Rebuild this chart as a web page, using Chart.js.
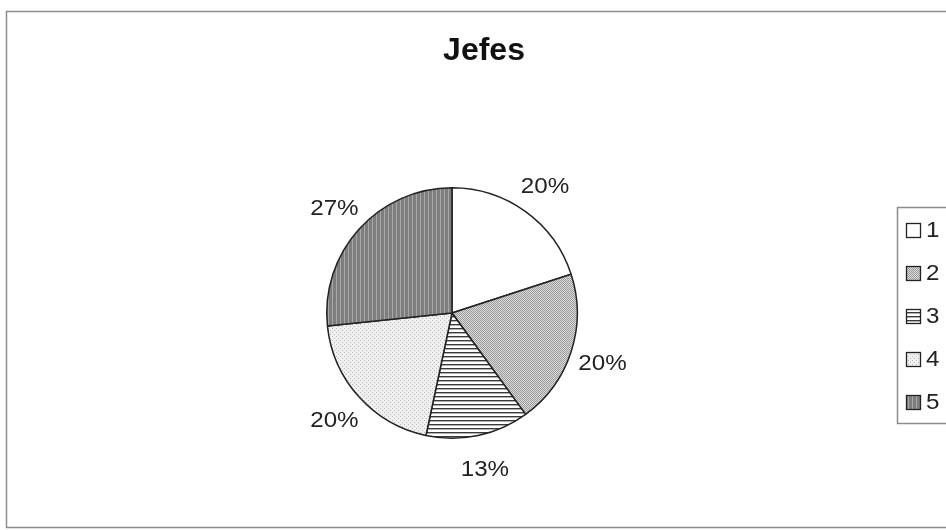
<!DOCTYPE html>
<html>
<head>
<meta charset="utf-8">
<script src="https://cdn.jsdelivr.net/npm/chart.js@4/dist/chart.umd.min.js"></script>
<style>
html,body{margin:0;padding:0;background:#fff;}
#wrap{position:relative;width:946px;height:530px;}
</style>
</head>
<body>
<div id="wrap"><canvas id="c" width="946" height="530"></canvas></div>
<script>
const chartTitle = "Jefes";
const categories = ["1", "2", "3", "4", "5"];
const counts = [3, 3, 2, 3, 4];
const percentLabels = ["20%", "20%", "13%", "20%", "27%"];

function makePattern(kind) {
  const p = document.createElement('canvas');
  p.width = 4; p.height = 4;
  const g = p.getContext('2d');
  if (kind === 'white') {
    g.fillStyle = '#ffffff'; g.fillRect(0,0,4,4);
  } else if (kind === 'gray') {
    g.fillStyle = '#dcdcdc'; g.fillRect(0,0,4,4);
    g.fillStyle = '#9a9a9a';
    g.fillRect(0,0,1,1); g.fillRect(2,0,1,1); g.fillRect(1,1,1,1); g.fillRect(3,1,1,1);
    g.fillRect(0,2,1,1); g.fillRect(2,2,1,1); g.fillRect(1,3,1,1); g.fillRect(3,3,1,1);
  } else if (kind === 'hlines') {
    g.fillStyle = '#ffffff'; g.fillRect(0,0,4,4);
    g.fillStyle = '#3a3a3a'; g.fillRect(0,0,4,1.4);
  } else if (kind === 'light') {
    g.fillStyle = '#f0f0f0'; g.fillRect(0,0,4,4);
    g.fillStyle = '#b8b8b8';
    g.fillRect(0,0,1,1); g.fillRect(2,2,1,1);
  } else if (kind === 'dark') {
    g.fillStyle = '#7e7e7e'; g.fillRect(0,0,4,4);
    g.fillStyle = '#a8a8a8'; g.fillRect(0,0,1,4);
  }
  return document.getElementById('c').getContext('2d').createPattern(p, 'repeat');
}
const fills = [makePattern('white'), makePattern('gray'), makePattern('hlines'), makePattern('light'), makePattern('dark')];

function stretchText(ctx, txt, x, y, sx) {
  ctx.save();
  ctx.translate(x, y);
  ctx.scale(sx, 1);
  ctx.fillText(txt, 0, 0);
  ctx.restore();
}

const decor = {
  id: 'decor',
  beforeDraw(chart) {
    const ctx = chart.ctx;
    ctx.save();
    ctx.fillStyle = '#fff';
    ctx.fillRect(0,0,chart.width,chart.height);
    ctx.strokeStyle = '#8c8c8c';
    ctx.lineWidth = 1.5;
    ctx.strokeRect(6.5, 11.5, 960, 516);
    ctx.restore();
  },
  afterDraw(chart) {
    const ctx = chart.ctx;
    ctx.save();
    // title
    ctx.fillStyle = '#111';
    ctx.font = 'bold 32px "Liberation Sans", Arial, sans-serif';
    ctx.textAlign = 'center';
    ctx.textBaseline = 'alphabetic';
    ctx.fillText(chartTitle, 484, 60);
    // percent labels
    const meta = chart.getDatasetMeta(0);
    ctx.font = '22px "Liberation Sans", Arial, sans-serif';
    ctx.textBaseline = 'middle';
    ctx.fillStyle = '#222';
    meta.data.forEach((arc, i) => {
      const p = arc.getProps(['x','y','startAngle','endAngle','outerRadius'], true);
      const mid = (p.startAngle + p.endAngle) / 2;
      const d = p.outerRadius + 33;
      stretchText(ctx, percentLabels[i], p.x + Math.cos(mid) * d, p.y + Math.sin(mid) * d + 2, 1.1);
    });
    // legend
    ctx.strokeStyle = '#8c8c8c';
    ctx.lineWidth = 1.5;
    ctx.strokeRect(897.5, 207.5, 80, 216);
    ctx.font = '22px "Liberation Sans", Arial, sans-serif';
    ctx.textAlign = 'left';
    categories.forEach((c, i) => {
      const y = 223 + i * 43;
      ctx.fillStyle = fills[i];
      ctx.fillRect(906, y, 14, 14);
      ctx.strokeStyle = '#222';
      ctx.lineWidth = 1.3;
      ctx.strokeRect(906.5, y + 0.5, 14, 14);
      ctx.fillStyle = '#222';
      stretchText(ctx, c, 926, y + 8, 1.1);
    });
    ctx.restore();
  }
};

new Chart(document.getElementById('c'), {
  type: 'pie',
  data: {
    labels: categories,
    datasets: [{
      data: counts,
      backgroundColor: fills,
      borderColor: '#222',
      borderWidth: 1.5
    }]
  },
  options: {
    responsive: false,
    animation: false,
    layout: { padding: { top: 187, bottom: 91, left: 326, right: 368 } },
    plugins: { legend: { display: false }, tooltip: { enabled: false }, title: { display: false } }
  },
  plugins: [decor]
});
</script>
</body>
</html>
